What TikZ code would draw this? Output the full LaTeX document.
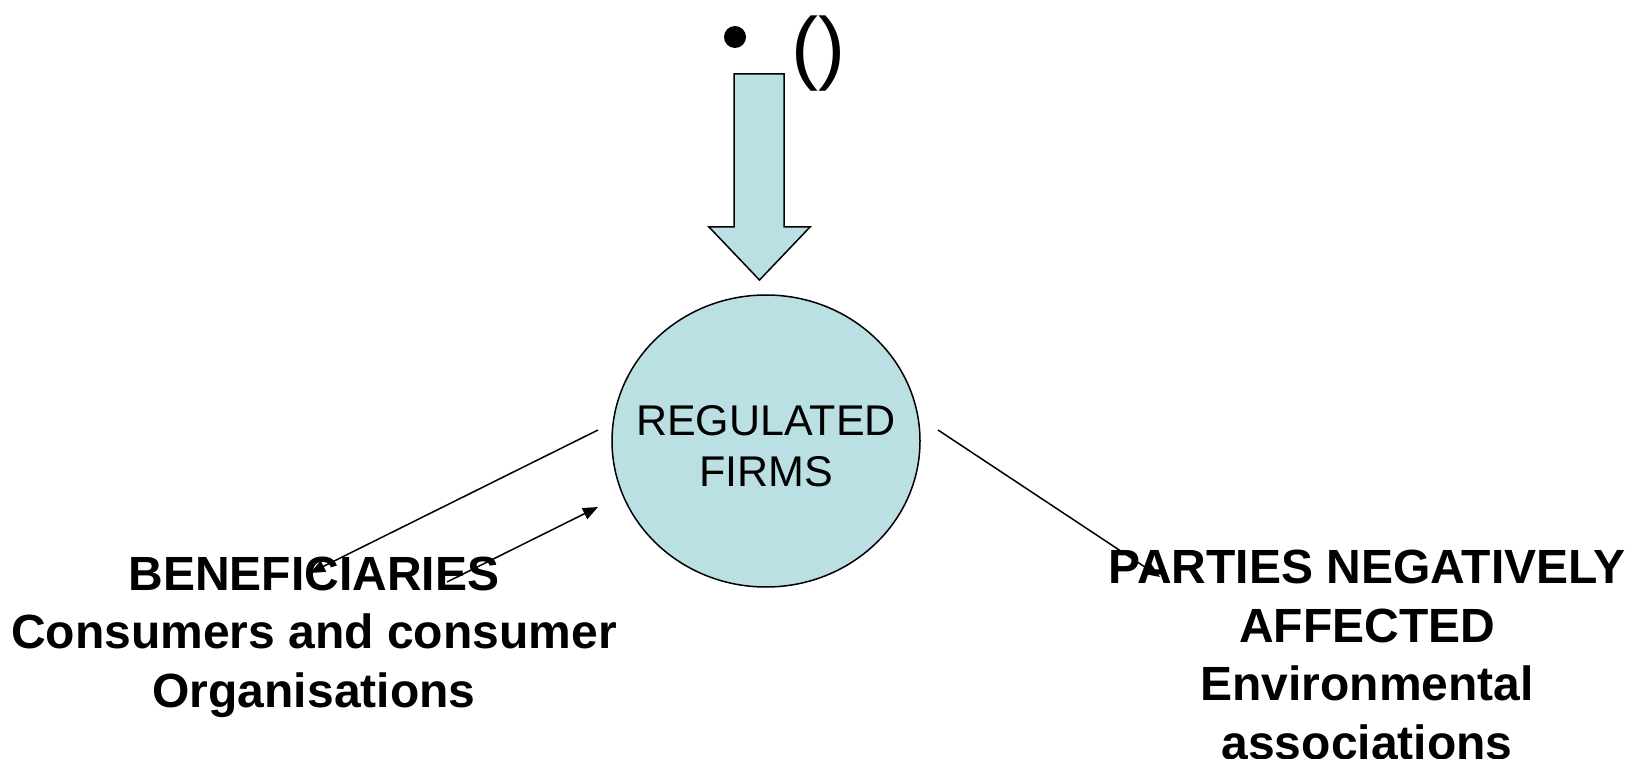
\documentclass[tikz,border=0pt]{standalone}
\usepackage{fontspec}
\setmainfont{Liberation Sans}
\usetikzlibrary{arrows.meta,shapes.geometric}
\definecolor{fillblue}{HTML}{BBE0E3}
\tikzset{
  conn/.style={line width=1.5pt, -{Triangle[length=15pt,width=12pt]}},
  lbl/.style={align=center, font=\fontsize{48}{58.5}\selectfont\bfseries, inner sep=0pt},
}
\begin{document}
\begin{tikzpicture}[x=1pt,y=-1pt]
\useasboundingbox (0,0) rectangle (1639,759);
% top bullet and parentheses
\fill (735,37) circle (11);
\node[font=\fontsize{81}{90}\selectfont, inner sep=0pt] (par) at (818,54) {()};
% big arrow
\draw[fill=fillblue, line width=1.5pt, line join=miter]
  (734,74) -- (784,74) -- (784,227) -- (810,227) -- (759.5,280) -- (709,227) -- (734,227) -- cycle;
% circle
\node[draw, line width=1.5pt, fill=fillblue, ellipse, minimum width=308, minimum height=292, inner sep=0pt] (circ) at (766,441) {};
\node[align=center, font=\fontsize{43}{51}\selectfont, inner sep=0pt] (firms) at (766,446) {REGULATED\\FIRMS};
% labels
\node[lbl] (ben) at (314,637) {BENEFICIARIES\\Consumers and consumer\\Organisations};
\node[lbl] (neg) at (1367,655) {PARTIES NEGATIVELY\\AFFECTED\\Environmental\\associations};
% connectors
\coordinate (a1) at (598,430);
\coordinate (a2) at (310,573);
\coordinate (b1) at (447,582);
\coordinate (b2) at (598,507);
\coordinate (c1) at (938,430);
\coordinate (c2) at (1160,577);
\draw[conn] (a1) -- (a2);
\draw[conn] (b1) -- (b2);
\draw[conn] (c1) -- (c2);
\end{tikzpicture}
\end{document}
